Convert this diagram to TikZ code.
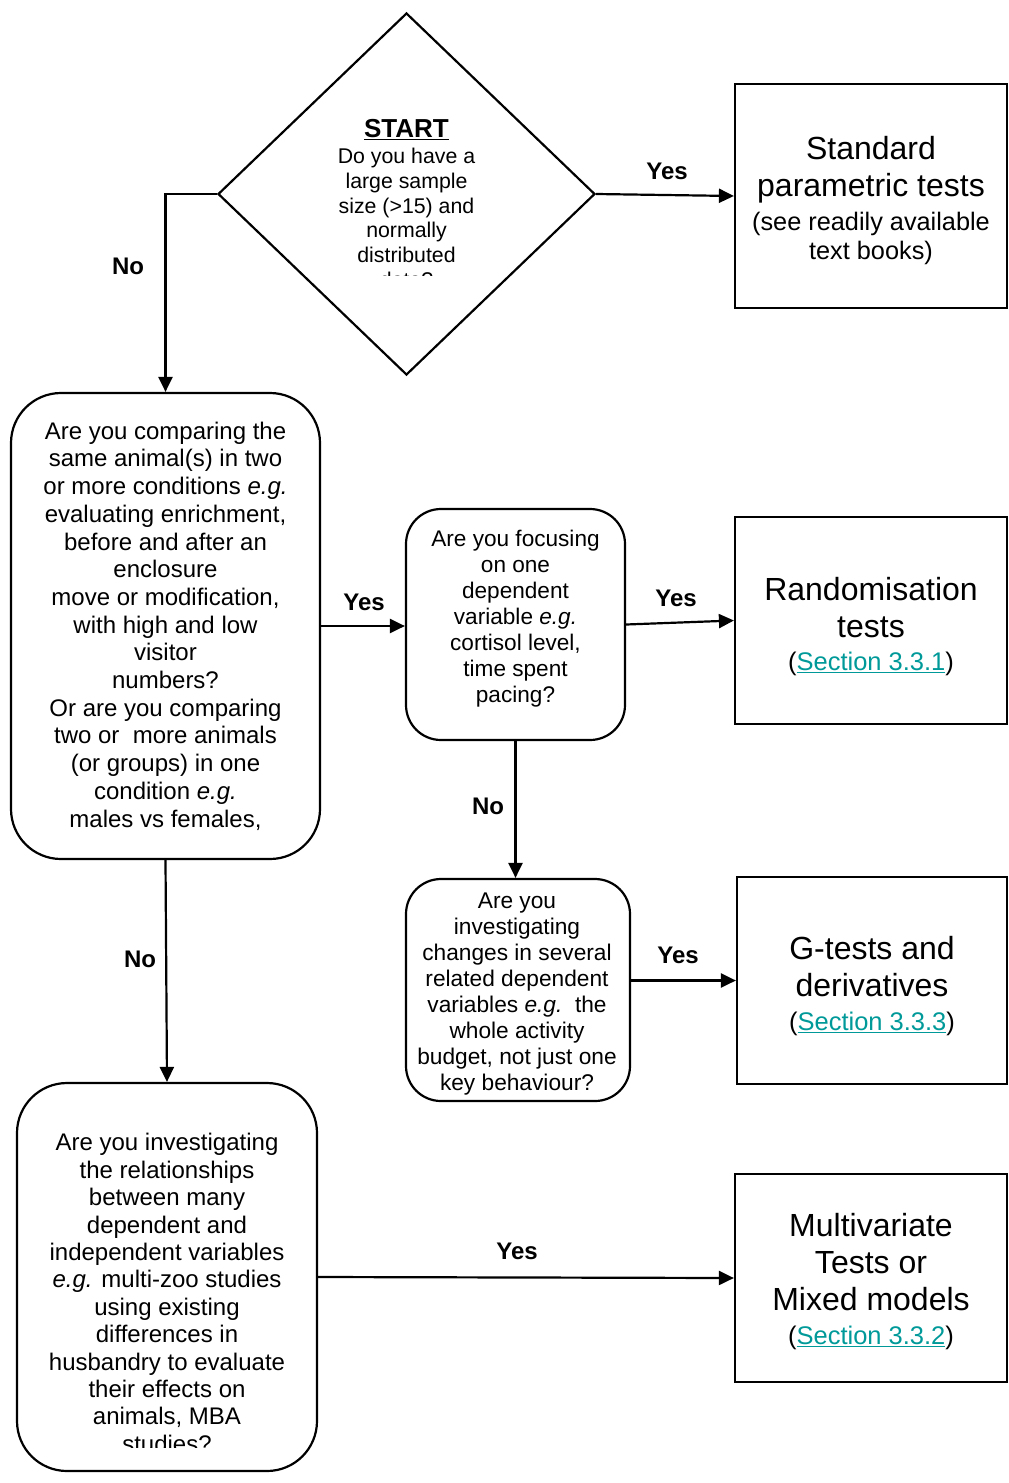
\documentclass[tikz,border=0pt]{standalone}
\usepackage{fontspec}
\setmainfont{Liberation Sans}
\usetikzlibrary{shapes.geometric,arrows.meta,calc}
\definecolor{linkc}{RGB}{0,153,153}
\newcommand{\fsz}[2]{\fontsize{#1}{#2}\selectfont}
\newcommand{\lnk}[1]{\textcolor{linkc}{\underline{#1}}}
\begin{document}
\begin{tikzpicture}[x=1pt,y=-1pt,
  line width=2.2pt,
  arr/.style={-{Triangle[length=15pt,width=14pt]}, line width=2.2pt},
  rbox/.style={draw, rounded corners=#1, inner sep=0pt},
  sbox/.style={draw, inner sep=0pt},
  qtext/.style={align=center, inner sep=0pt},
  lbl/.style={font=\bfseries\fsz{24}{28}, inner sep=0pt},
]
\useasboundingbox (0,0) rectangle (1009,1483);
\fill[white] (0,0) rectangle (1009,1483);

% shapes
\node[draw, diamond, minimum width=377pt, minimum height=362pt, inner sep=0pt] (d) at (406.5,194) {};
\node[sbox, minimum width=272pt, minimum height=224pt] (r1) at (871,196) {};
\node[rbox=50pt, minimum width=309pt, minimum height=466pt] (q1) at (165.5,626) {};
\node[rbox=35pt, minimum width=219pt, minimum height=231pt] (m1) at (515.5,624.5) {};
\node[sbox, minimum width=272pt, minimum height=207pt] (r2) at (871,620.5) {};
\node[rbox=35pt, minimum width=224pt, minimum height=222pt] (m2) at (518,990) {};
\node[sbox, minimum width=270pt, minimum height=207pt] (r3) at (872,980.5) {};
\node[rbox=50pt, minimum width=300pt, minimum height=388pt] (q3) at (167,1277) {};
\node[sbox, minimum width=272pt, minimum height=208pt] (r4) at (871,1278) {};

% texts
\node[qtext, font=\bfseries\fsz{26}{30}] (st) at (406.5,130) {\underline{START}};
\begin{scope}
  \clip (290,140) rectangle (525,275.5);
  \node[qtext, font=\fsz{21.3}{24.75}] (dq) at (406.5,218) {Do you have a\\large sample\\size (>15) and\\normally\\distributed\\data?};
\end{scope}

\node[qtext, font=\fsz{24}{27.7}] (t1) at (165.5,626) {Are you comparing the\\same animal(s) in two\\or more conditions \textit{e.g.}\\evaluating enrichment,\\before and after an\\enclosure\\move or modification,\\with high and low\\visitor\\numbers?\\Or are you comparing\\two or\ \ more animals\\(or groups) in one\\condition \textit{e.g.}\\males vs females,};

\node[qtext, font=\fsz{22.6}{26}] (tm1) at (515.5,619) {Are you focusing\\on one\\dependent\\variable \textit{e.g.}\\cortisol level,\\time spent\\pacing?};

\node[qtext, font=\fsz{22.7}{26}] (tm2) at (517,994) {Are you\\investigating\\changes in several\\related dependent\\variables \textit{e.g.}\ \ the\\whole activity\\budget, not just one\\key behaviour?};

\begin{scope}
  \clip (20,1100) rectangle (315,1447);
  \node[qtext, font=\fsz{24}{27.4}] (t3) at (167,1293) {Are you investigating\\the relationships\\between many\\dependent and\\independent variables\\\textit{e.g.} multi-zoo studies\\using existing\\differences in\\husbandry to evaluate\\their effects on\\animals, MBA\\studies?};
\end{scope}

\node[qtext, font=\fsz{25.3}{29}] (tr1) at (871,200.5) {\fsz{32}{29}Standard\\[8pt]\fsz{32}{29}parametric tests\\[5pt]\fsz{25.3}{29}(see readily available\\\fsz{25.3}{29}text books)};
\node[qtext, font=\fsz{25.5}{29}] (tr2) at (871,626.5) {\fsz{32}{29}Randomisation\\[8pt]\fsz{32}{29}tests\\[4pt]\fsz{25.5}{29}(\lnk{Section 3.3.1})};
\node[qtext, font=\fsz{25.5}{29}] (tr3) at (872,986) {\fsz{32}{29}G-tests and\\[8pt]\fsz{32}{29}derivatives\\[5pt]\fsz{25.5}{29}(\lnk{Section 3.3.3})};
\node[qtext, font=\fsz{25.5}{29}] (tr4) at (871,1281.5) {\fsz{32}{29}Multivariate\\[8pt]\fsz{32}{29}Tests or\\[8pt]\fsz{32}{29}Mixed models\\[5pt]\fsz{25.5}{29}(\lnk{Section 3.3.2})};

% connectors
\draw[arr] (d.east) -- (r1.west);
\draw[arr] (d.west) -| (q1.north);
\draw[arr] (q1.east) -- (q1.east -| m1.west);
\draw[arr] (m1.east) -- (r2.west);
\draw[arr] (m1.south) -- (m1.south |- m2.north);
\draw[arr] (r3.west -| m2.east) -- (r3.west);
\draw[arr] (q1.south) -- (q3.north);
\draw[arr] (q3.east) -- (r4.west);

% labels
\node[lbl] (l1) at (667,171) {Yes};
\node[lbl] (l2) at (128,266) {No};
\node[lbl] (l3) at (364,602) {Yes};
\node[lbl] (l4) at (676,598) {Yes};
\node[lbl] (l5) at (488,806) {No};
\node[lbl] (l6) at (678,955) {Yes};
\node[lbl] (l7) at (140,959) {No};
\node[lbl] (l8) at (517,1251) {Yes};
\end{tikzpicture}
\end{document}
